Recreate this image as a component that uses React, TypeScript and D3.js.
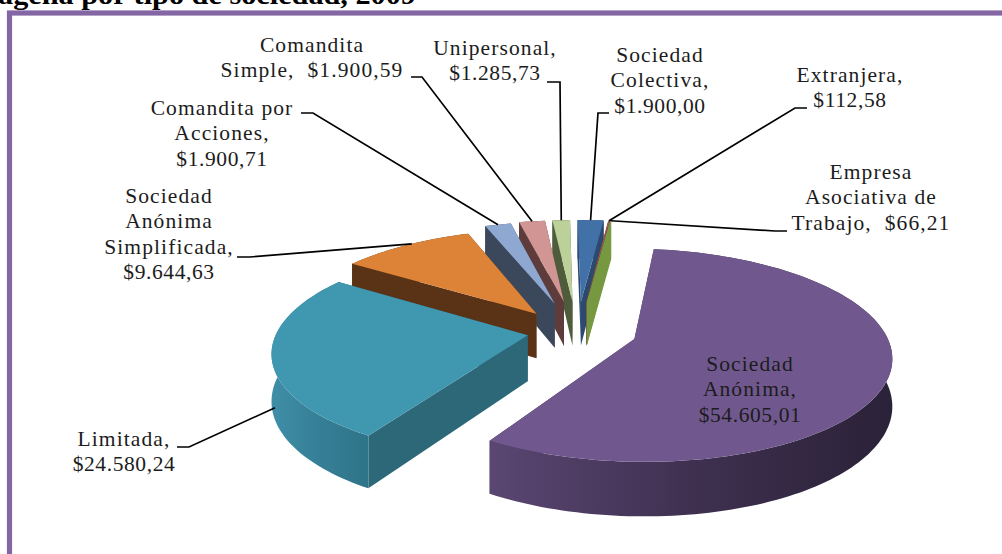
import React from "react";
import * as d3 from "d3";

// ---- data ----
const categories = ["Sociedad Anónima", "Limitada", "Sociedad Anónima Simplificada", "Comandita por Acciones", "Comandita Simple", "Unipersonal", "Sociedad Colectiva", "Extranjera", "Empresa Asociativa de Trabajo"];
const values = [54605.01, 24580.24, 9644.63, 1900.71, 1900.59, 1285.73, 1900.0, 112.58, 66.21];
const explosions = [0.24, 0.2, 0.27, 0.33, 0.34, 0.34, 0.34, 0.34, 0.34];
const explosionLift = [0.04, 0.04, 0, 0, 0, 0, 0, 0, 0];

// ---- styles ----
const topColors = ["#70588f", "#4097b0", "#dc8338", "#8fa8d1", "#d19594", "#bcd09a", "#4271a7", "#a5524f", "#7a9a45"];
const startWallColors = ["#3f3050", "#2c6878", "#5a3316", "#3b475b", "#5f3c3c", "#4f5c3c", "#2c4a6f", "#6b3634", "#769841"];
const endWallColors = ["#3f3050", "#2c6878", "#7a4a22", "#3b475b", "#5f3c3c", "#4f5c3c", "#2c4a6f", "#8a4a48", "#769841"];
const rimStops: string[][] = [
  ["#5a4672", "#3f3050", "#2a2238"],
  ["#3f8ea7", "#357f96", "#2f7488"],
  ["#5a3316", "#5a3316", "#5a3316"],
  ["#3b475b", "#3b475b", "#3b475b"],
  ["#5f3c3c", "#5f3c3c", "#5f3c3c"],
  ["#4f5c3c", "#4f5c3c", "#4f5c3c"],
  ["#2c4a6f", "#2c4a6f", "#2c4a6f"],
  ["#6b3634", "#6b3634", "#6b3634"],
  ["#769841", "#769841", "#769841"],
];

// ---- projection of the tilted pie ----
const startDeg = 7;
const cx = 577, cy = 335, radiusX = 252, radiusY = 103, depth = 46, persp = 0.15;
const project = (u: number, v: number, z: number): [number, number] => {
  const s = 1 / (1 + persp * v);
  return [cx + radiusX * u * s, cy - radiusY * v * s + depth * z * s];
};

// ---- labels ----
const labelLines: string[][] = [
  ["Sociedad", "Anónima,", "$54.605,01"],
  ["Limitada,", "$24.580,24"],
  ["Sociedad", "Anónima", "Simplificada,", "$9.644,63"],
  ["Comandita por", "Acciones,", "$1.900,71"],
  ["Comandita", "Simple,\u00a0 $1.900,59"],
  ["Unipersonal,", "$1.285,73"],
  ["Sociedad", "Colectiva,", "$1.900,00"],
  ["Extranjera,", "$112,58"],
  ["Empresa", "Asociativa de", "Trabajo,\u00a0 $66,21"],
];
const labelCentersX = [750, 124, 169, 222, 312, 495, 660, 850, 871];
const labelFirstBaselines = [371, 446, 203, 115, 52, 55, 62, 82, 179];
const lineStep = 25.4;
// elbow of each leader: start, knee; the end comes from the slice itself
const leaderStarts: ([number, number][] | null)[] = [
  null,
  [[177, 447], [189, 447]],
  [[237, 257], [250, 257]],
  [[301, 113], [313, 113]],
  [[411, 77], [422, 77]],
  [[547, 82], [560, 82]],
  [[609, 113], [598, 113]],
  [[807, 108], [795, 108]],
  [[787, 231], [775, 231]],
];
// where a leader touches its slice: fraction across the slice's angle, and height on the wall
const leaderAngleFrac = [0.5, 0.42, 0.55, 0.5, 0.5, 0.5, 0.5, 0.5, 0.5];
const leaderWall = [0, 0.75, 0, 0, 0, 0, 0, 0, 0];
const paintOrder = [6, 7, 8, 5, 4, 3, 2, 1, 0];

export default function App() {
  const t0 = (startDeg * Math.PI) / 180;
  const arcs = d3.pie<number>().sort(null).startAngle(t0).endAngle(t0 + 2 * Math.PI)(values);

  const line = d3.line<[number, number]>().x((d) => d[0]).y((d) => d[1]);

  const slices = arcs.map((a, i) => {
    const bis = (a.startAngle + a.endAngle) / 2;
    const eu = explosions[i] * Math.sin(bis);
    const ev = explosions[i] * Math.cos(bis) + explosionLift[i];
    const rim = (th: number, z: number) => project(eu + Math.sin(th), ev + Math.cos(th), z);
    const apex = (z: number) => project(eu, ev, z);
    const step = (a.endAngle - a.startAngle) / Math.max(4, Math.ceil((a.endAngle - a.startAngle) * 40));
    const angles = d3.range(0, Math.round((a.endAngle - a.startAngle) / step) + 1).map((k) => a.startAngle + k * step);
    const arcTop = angles.map((th) => rim(th, 0));
    const arcBottom = angles.map((th) => rim(th, 1));
    const top = [apex(0), ...arcTop];
    const rimWall = [...arcTop, ...arcBottom.slice().reverse()];
    const startWall = [apex(0), rim(a.startAngle, 0), rim(a.startAngle, 1), apex(1)];
    const endWall = [apex(0), rim(a.endAngle, 0), rim(a.endAngle, 1), apex(1)];
    const xs = rimWall.map((p) => p[0]);
    const leaderEnd = rim(a.startAngle + leaderAngleFrac[i] * (a.endAngle - a.startAngle), leaderWall[i]);
    return { i, top, rimWall, startWall, endWall, x0: d3.min(xs)!, x1: d3.max(xs)!, leaderEnd };
  });

  return (
    <svg width={1002} height={554} viewBox="0 0 1002 554" style={{ position: "absolute", left: 0, top: 0, display: "block", background: "#fff" }}>
      <defs>
        {slices.map((s) => (
          <linearGradient key={s.i} id={`rim${s.i}`} gradientUnits="userSpaceOnUse" x1={s.x0} x2={s.x1} y1={0} y2={0}>
            {rimStops[s.i].map((c, k) => (
              <stop key={k} offset={k / (rimStops[s.i].length - 1)} stopColor={c} />
            ))}
          </linearGradient>
        ))}
      </defs>
      <text x={-2} y={4} fontFamily="'Liberation Serif', serif" fontWeight="bold" fontSize={27} fill="#000" textLength={418} lengthAdjust="spacingAndGlyphs">agena por tipo de sociedad, 2009</text>
      <rect x={9.5} y={13} width={1100} height={700} fill="#fff" stroke="#8466a4" strokeWidth={5.2} />

      {paintOrder.map((i) => {
        const s = slices[i];
        return (
          <g key={categories[i]}>
            <path d={line(s.endWall as [number, number][])! + "Z"} fill={endWallColors[i]} />
            <path d={line(s.startWall as [number, number][])! + "Z"} fill={startWallColors[i]} />
            <path d={line(s.rimWall as [number, number][])! + "Z"} fill={`url(#rim${i})`} />
            <path d={line(s.top as [number, number][])! + "Z"} fill={topColors[i]} />
          </g>
        );
      })}

      {slices.map((s) => {
        const st = leaderStarts[s.i];
        if (!st) return null;
        return <path key={s.i} d={line([...st, s.leaderEnd] as [number, number][])!} fill="none" stroke="#000" strokeWidth={1.7} />;
      })}

      {labelLines.map((lines, i) => (
        <text key={i} textAnchor="middle" fontFamily="'Liberation Serif', serif" fontSize={21.5} fill="#1c1c1c">
          {lines.map((l, k) => (
            <tspan key={k} x={labelCentersX[i]} y={labelFirstBaselines[i] + k * lineStep} letterSpacing={l.startsWith("$") ? 0.6 : 1.1}>{l}</tspan>
          ))}
        </text>
      ))}
    </svg>
  );
}
